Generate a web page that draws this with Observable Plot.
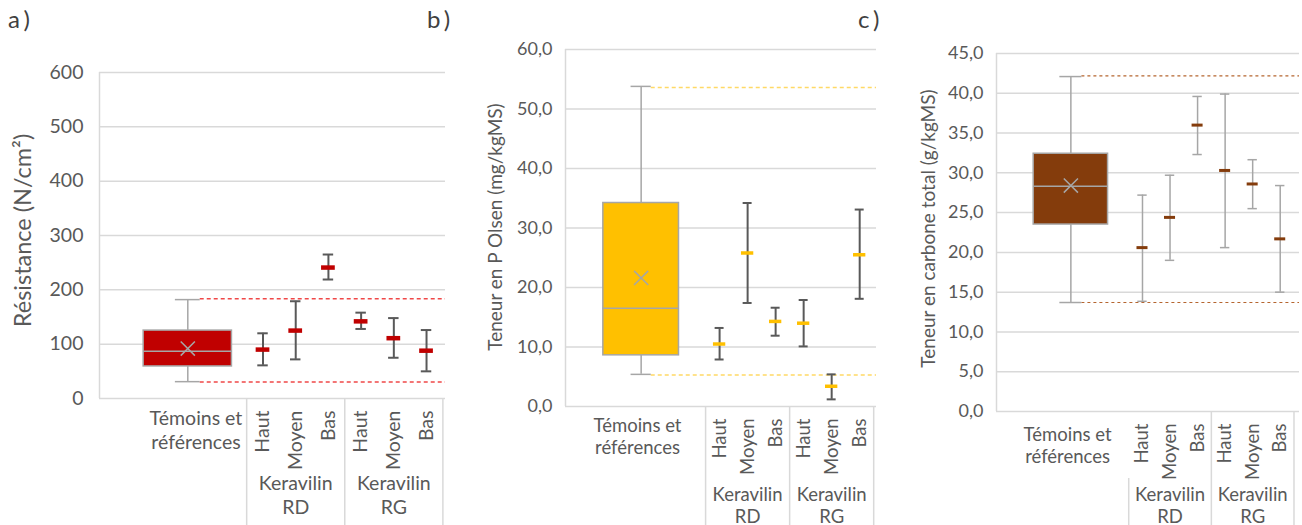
<!DOCTYPE html>
<html><head><meta charset="utf-8">
<script src="https://cdn.jsdelivr.net/npm/d3@7"></script>
<script src="https://cdn.jsdelivr.net/npm/@observablehq/plot@0.6"></script>
<style>
body{margin:0;background:#fff;}
#wrap{position:relative;width:1302px;height:525px;overflow:hidden;font-family:Lato,sans-serif;background:#fff;}
.panel{position:absolute;top:0;}
.tag{position:absolute;top:4px;font-size:24px;color:#404040;letter-spacing:4px;font-family:Lato,sans-serif;}
</style></head><body><div id="wrap"></div>
<script>
// ---------- data ----------
const groupLabels = ["Keravilin\nRD", "Keravilin\nRG"];
const levels = ["Haut", "Moyen", "Bas"];
const refLabel = "Témoins et\nréférences";
const panelTags = ["a)", "b)", "c)"];

// a) Résistance (N/cm²)
const resTicks = [0, 100, 200, 300, 400, 500, 600];
const resBox = {min: 31, q1: 59, median: 87, q3: 125, max: 182, mean: 92};
const resRef = [183.5, 30.5];
const resMean = [90, 125, 241, 142, 111, 88];
const resLow  = [61, 72, 219, 128, 75, 50];
const resHigh = [120, 179, 265, 158, 148, 126];

// b) Teneur en P Olsen (mg/kgMS)
const pTicks = [0, 10, 20, 30, 40, 50, 60];
const pBox = {min: 5.4, q1: 8.6, median: 16.5, q3: 34.2, max: 53.8, mean: 21.6};
const pRef = [53.6, 5.3];
const pMean = [10.5, 25.8, 14.3, 14.0, 3.4, 25.5];
const pLow  = [7.9, 17.4, 11.9, 10.1, 1.2, 18.1];
const pHigh = [13.2, 34.2, 16.6, 17.9, 5.4, 33.1];

// c) Teneur en carbone total (g/kgMS)
const cTicks = [0, 5, 10, 15, 20, 25, 30, 35, 40, 45];
const cBox = {min: 13.7, q1: 23.5, median: 28.3, q3: 32.4, max: 42.1, mean: 28.4};
const cRef = [42.2, 13.7];
const cMean = [20.6, 24.4, 36.0, 30.3, 28.6, 21.7];
const cLow  = [13.85, 19.0, 32.3, 20.6, 25.5, 15.0];
const cHigh = [27.2, 29.7, 39.6, 39.9, 31.65, 28.4];

// ---------- drawing ----------
const comma = d => d.toFixed(1).replace(".", ",");
const wrap = document.getElementById("wrap");

function panel(o) {
  const H = 525;
  const frameH = H - o.marginTop - o.marginBottom;
  const bc = 2.7, bw = 1.35;
  const rows = [];
  o.mean.forEach((m, i) => rows.push({
    x: o.L + 0.5 + i, level: levels[i % 3], mean: m, low: o.low[i], high: o.high[i]
  }));
  const groups = groupLabels.map((g, j) => ({x: o.L + 1.5 + 3 * j, text: g}));
  const seps = [o.L, o.L + 3, o.L + 6];
  const grey = "#a6a6a6";
  const marks = [
    Plot.ruleY(o.ticks, {stroke: "#d9d9d9", strokeWidth: 1.5}),
    Plot.ruleX([0], {stroke: "#d9d9d9", strokeWidth: 1.5}),
    ...seps.map((s, k) => Plot.ruleX([s], {stroke: "#d9d9d9", strokeWidth: 1.5,
      insetTop: frameH + (o.sepStart ? o.sepStart[k] : 0), insetBottom: -o.marginBottom})),
    // reference lines
    Plot.ruleY(o.ref, {x1: bc + o.capHalf, x2: o.units, stroke: o.refColor, strokeWidth: o.refWidth, strokeDasharray: o.dash}),
    // box whiskers
    Plot.ruleX([o.box], {x: bc, y1: "q3", y2: "max", stroke: grey, strokeWidth: 1.5}),
    Plot.ruleX([o.box], {x: bc, y1: "min", y2: "q1", stroke: grey, strokeWidth: 1.5}),
    Plot.ruleY([o.box.max, o.box.min], {x1: bc - o.capHalf, x2: bc + o.capHalf, stroke: grey, strokeWidth: 1.5}),
    Plot.rect([o.box], {x1: bc - bw, x2: bc + bw, y1: "q1", y2: "q3", fill: o.color, stroke: grey, strokeWidth: 1.5}),
    Plot.ruleY([o.box], {y: "median", x1: bc - bw, x2: bc + bw, stroke: grey, strokeWidth: 1.5}),
    Plot.dot([o.box], {x: bc, y: "mean", symbol: "times", r: 6.5, stroke: grey, strokeWidth: 1.5}),
    // error bars
    Plot.ruleX(rows, {x: "x", y1: "low", y2: "high", stroke: o.errColor, strokeWidth: o.errWidth}),
    Plot.ruleY(rows, {y: "high", x1: d => d.x - o.errCap, x2: d => d.x + o.errCap, stroke: o.errColor, strokeWidth: o.errWidth}),
    Plot.ruleY(rows, {y: "low", x1: d => d.x - o.errCap, x2: d => d.x + o.errCap, stroke: o.errColor, strokeWidth: o.errWidth}),
    Plot.ruleY(rows, {y: "mean", x1: d => d.x - o.meanHalf, x2: d => d.x + o.meanHalf, stroke: o.color, strokeWidth: o.meanWidth}),
    // axis
    Plot.axisY(o.ticks, {tickSize: 0, tickPadding: o.tickPad, tickFormat: o.fmt, fontSize: o.tickFont, label: null}),
    Plot.text([o.label], {text: d => d, frameAnchor: "left", rotate: -90, textAnchor: "middle", lineAnchor: "middle",
      dx: o.labelDx, dy: o.labelDy, fontSize: o.labelFont}),
    // category labels
    Plot.text([refLabel], {text: d => d, x: o.refTextX, frameAnchor: "bottom", lineAnchor: "bottom",
      dy: o.refDy, lineHeight: o.refLH, fontSize: o.catFont}),
    Plot.text(rows, {x: "x", text: "level", frameAnchor: "bottom", rotate: -90, textAnchor: "end",
      lineAnchor: "middle", dy: o.rotDy, fontSize: o.catFont}),
    Plot.text(groups, {x: "x", text: "text", frameAnchor: "bottom", lineAnchor: "bottom",
      dy: o.grpDy, lineHeight: o.grpLH, fontSize: o.catFont})
  ];
  const svg = Plot.plot({
    width: o.width, height: H,
    marginLeft: o.marginLeft, marginRight: o.marginRight, marginTop: o.marginTop, marginBottom: o.marginBottom,
    x: {type: "linear", domain: [0, o.units], axis: null},
    y: {domain: [0, o.yMax]},
    style: {fontFamily: "Lato, sans-serif", color: "#595959", background: "transparent", overflow: "visible"},
    marks
  });
  svg.classList.add("panel");
  svg.style.left = o.left + "px";
  wrap.appendChild(svg);
}

panel({left: 0, width: 448, marginLeft: 99, marginRight: 3, marginTop: 72, marginBottom: 127,
  units: 10.58, L: 4.5, yMax: 600, ticks: resTicks, fmt: d => String(d), tickPad: 16, tickFont: 19.5,
  label: "Résistance (N/cm²)", labelDx: -76, labelDy: -5, labelFont: 23.5,
  box: resBox, ref: resRef, mean: resMean, low: resLow, high: resHigh,
  color: "#c00000", refColor: "#f04848", refWidth: 1.5, dash: "4,3",
  errColor: "#595959", errWidth: 2, errCap: 0.16, meanHalf: 0.21, meanWidth: 4.5, capHalf: 0.38,
  refTextX: 2.95, refDy: 50, refLH: 1.2, catFont: 19.5, rotDy: 12, grpDy: 115, grpLH: 1.2});

panel({left: 448, width: 432, marginLeft: 117, marginRight: 4, marginTop: 49, marginBottom: 119,
  units: 11.1, L: 5, yMax: 60, ticks: pTicks, fmt: comma, tickPad: 13, tickFont: 18,
  label: "Teneur en P Olsen (mg/kgMS)", labelDx: -70, labelDy: -1, labelFont: 19,
  box: pBox, ref: pRef, mean: pMean, low: pLow, high: pHigh,
  color: "#ffc000", refColor: "#ffd966", refWidth: 1.5, dash: "4,3",
  errColor: "#595959", errWidth: 2, errCap: 0.16, meanHalf: 0.22, meanWidth: 3.5, capHalf: 0.36,
  refTextX: 2.57, refDy: 47, refLH: 1.15, catFont: 18.5, rotDy: 12, grpDy: 116, grpLH: 1.15});

panel({left: 880, width: 422, marginLeft: 116, marginRight: 3, marginTop: 53, marginBottom: 114,
  units: 11.0, L: 4.8, yMax: 45, ticks: cTicks, fmt: comma, tickPad: 13, tickFont: 18,
  label: "Teneur en carbone total (g/kgMS)", labelDx: -68, labelDy: -4, labelFont: 19,
  box: cBox, ref: cRef, mean: cMean, low: cLow, high: cHigh,
  color: "#843c0c", refColor: "#b5652f", refWidth: 1.2, dash: "3,3",
  errColor: "#a6a6a6", errWidth: 1.5, errCap: 0.17, meanHalf: 0.2, meanWidth: 3, capHalf: 0.4,
  refTextX: 2.58, refDy: 51, refLH: 1.15, catFont: 18.5, rotDy: 12, grpDy: 111, grpLH: 1.15,
  sepStart: [67, 0, 0]});

// panel tags
[[8, panelTags[0]], [427, panelTags[1]], [858, panelTags[2]]].forEach(([x, t]) => {
  const d = document.createElement("div");
  d.className = "tag"; d.style.left = x + "px"; d.textContent = t;
  wrap.appendChild(d);
});
</script></body></html>
